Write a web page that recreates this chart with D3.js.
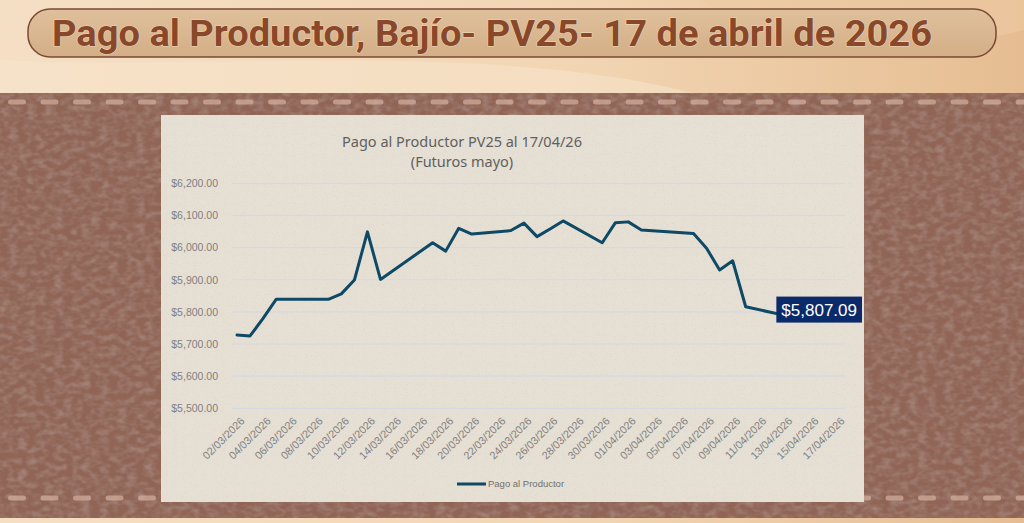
<!DOCTYPE html>
<html><head><meta charset="utf-8">
<script src="https://cdn.jsdelivr.net/npm/d3@7/dist/d3.min.js"></script>
<style>html,body{margin:0;padding:0;overflow:hidden;background:#f3dcc0}</style>
</head><body>
<svg id="c" width="1024" height="523"></svg>
<script>
// ---------- data ----------
const dates = ["02/03/2026","03/03/2026","04/03/2026","05/03/2026","06/03/2026","09/03/2026","10/03/2026","11/03/2026","12/03/2026","13/03/2026","17/03/2026","18/03/2026","19/03/2026","20/03/2026","23/03/2026","24/03/2026","25/03/2026","26/03/2026","27/03/2026","30/03/2026","31/03/2026","01/04/2026","02/04/2026","06/04/2026","07/04/2026","08/04/2026","09/04/2026","10/04/2026","13/04/2026","14/04/2026","15/04/2026","16/04/2026","17/04/2026"];
const pago = [5728,5725,5780,5839,5839,5839,5856,5899,6049,5901,6015,5989,6060,6042,6053,6076,6034,6058,6083,6015,6077,6080,6055,6044,5998,5930,5959,5816,5789,5795,5800,5803,5807.09];
const tickLabels = ["02/03/2026","04/03/2026","06/03/2026","08/03/2026","10/03/2026","12/03/2026","14/03/2026","16/03/2026","18/03/2026","20/03/2026","22/03/2026","24/03/2026","26/03/2026","28/03/2026","30/03/2026","01/04/2026","03/04/2026","05/04/2026","07/04/2026","09/04/2026","11/04/2026","13/04/2026","15/04/2026","17/04/2026"];
const yTicks = [5500,5600,5700,5800,5900,6000,6100,6200];
const headline = "Pago al Productor, Bajío- PV25- 17 de abril de 2026";
const chartTitle = ["Pago al Productor PV25 al 17/04/26","(Futuros mayo)"];
const seriesName = "Pago al Productor";

const parse = d3.timeParse("%d/%m/%Y");
const data = dates.map((d,i)=>({date:parse(d), v:pago[i]}));

const svg = d3.select("#c");
const defs = svg.append("defs");

// backgrounds
const g1 = defs.append("linearGradient").attr("id","bgTop").attr("x1","0").attr("x2","1").attr("y1","0").attr("y2","0");
g1.append("stop").attr("offset","0").attr("stop-color","#f5dfc4");
g1.append("stop").attr("offset","0.55").attr("stop-color","#f2d6b4");
g1.append("stop").attr("offset","1").attr("stop-color","#e6bd92");
const g2 = defs.append("linearGradient").attr("id","pill").attr("x1","0").attr("x2","0").attr("y1","0").attr("y2","1");
g2.append("stop").attr("offset","0").attr("stop-color","#dfc09c");
g2.append("stop").attr("offset","1").attr("stop-color","#d3ae86");

const fl = defs.append("filter").attr("id","leather").attr("x",0).attr("y",0).attr("width","100%").attr("height","100%");
fl.append("feTurbulence").attr("type","fractalNoise").attr("baseFrequency","0.11 0.17").attr("numOctaves",2).attr("seed",4).attr("result","n");
fl.append("feColorMatrix").attr("in","n").attr("type","matrix")
  .attr("values","0 0 0 0 0.36  0 0 0 0 0.22  0 0 0 0 0.18  2.2 0 0 0 -0.85");
const fp = defs.append("filter").attr("id","paper").attr("x",0).attr("y",0).attr("width","100%").attr("height","100%");
fp.append("feTurbulence").attr("type","fractalNoise").attr("baseFrequency","0.9").attr("numOctaves",1).attr("seed",7).attr("result","n");
fp.append("feColorMatrix").attr("in","n").attr("type","matrix")
  .attr("values","0 0 0 0 0.55  0 0 0 0 0.5  0 0 0 0 0.45  2.2 0 0 0 -1.25");

svg.append("rect").attr("width",1024).attr("height",523).attr("fill","url(#bgTop)");
svg.append("path").attr("d","M700,0 C760,40 900,60 1024,30 L1024,0 Z").attr("fill","#ecc9a3").attr("opacity",0.6);
svg.append("path").attr("d","M0,60 C200,70 500,40 700,95 L0,95 Z").attr("fill","#f8e5cd").attr("opacity",0.5);

// leather band
svg.append("rect").attr("x",0).attr("y",93).attr("width",1024).attr("height",425).attr("fill","#906556");
svg.append("rect").attr("x",0).attr("y",93).attr("width",1024).attr("height",425).attr("filter","url(#leather)");
// stitches
[102,498].forEach(sy=>{
  const xs = d3.range(8,1024,32.5);
  svg.append("g").selectAll("rect").data(xs).join("rect")
    .attr("x",d=>d).attr("y",sy-2.5).attr("width",18).attr("height",5).attr("rx",2.5)
    .attr("fill","#d4b0a0").attr("opacity",0.7);
});

// headline pill
svg.append("rect").attr("x",28).attr("y",9).attr("width",968).attr("height",48).attr("rx",22)
  .attr("fill","url(#pill)").attr("stroke","#7b4a33").attr("stroke-width",1.5);
svg.append("text").attr("x",52).attr("y",46).attr("font-family","Roboto, 'Open Sans', sans-serif")
  .attr("font-weight","bold").attr("font-size",36).attr("fill","#8a482b")
  .attr("textLength",880).attr("lengthAdjust","spacingAndGlyphs")
  .style("paint-order","stroke").attr("stroke","#ecd4b6").attr("stroke-width",1.2)
  .text(headline);

// chart panel
svg.append("rect").attr("x",161).attr("y",115).attr("width",703).attr("height",387).attr("fill","#e6dfd4");
svg.append("rect").attr("x",161).attr("y",115).attr("width",703).attr("height",387).attr("filter","url(#paper)").attr("opacity",0.5);

// scales
const x = d3.scaleTime().domain([parse("02/03/2026"), parse("17/04/2026")]).range([237,837]);
const y = d3.scaleLinear().domain([5500,6200]).range([408.3,183.3]);
const plotL = 232, plotR = 845;

// gridlines
svg.append("g").selectAll("line").data(yTicks).join("line")
  .attr("x1",plotL).attr("x2",plotR).attr("y1",d=>y(d)).attr("y2",d=>y(d))
  .attr("stroke","#d5dae2").attr("stroke-width",1.2);

// y axis labels
const fmt = d3.format("$,.2f");
const yAxis = d3.axisLeft(y).tickValues(yTicks).tickSize(0).tickPadding(0).tickFormat(d=>fmt(d));
const ya = svg.append("g").attr("transform","translate(218,0)").call(yAxis);
ya.select(".domain").remove();
ya.selectAll("text").attr("font-family","'Liberation Sans', Arial, sans-serif").attr("font-size",10.5).attr("fill","#7f7f7f");

// x axis labels
const xa = d3.axisBottom(x).tickValues(tickLabels.map(parse)).tickSize(0).tickFormat(d3.timeFormat("%d/%m/%Y"));
const xg = svg.append("g").attr("transform","translate(0,417)").call(xa);
xg.select(".domain").remove();
xg.selectAll("text").attr("font-family","'Liberation Sans', Arial, sans-serif").attr("font-size",10.8).attr("fill","#7f7f7f")
  .attr("text-anchor","end").attr("dy","0.35em").attr("transform","translate(3,0) rotate(-45)");

// title
svg.append("text").attr("x",462).attr("y",147).attr("text-anchor","middle")
  .attr("font-family","'Noto Sans', 'Open Sans', sans-serif").attr("font-size",14.5).attr("fill","#5f5f5f")
  .selectAll("tspan").data(chartTitle).join("tspan").attr("x",462).attr("dy",(d,i)=>i?20:0).text(d=>d);

// line
const line = d3.line().x(d=>x(d.date)).y(d=>y(d.v));
svg.append("path").datum(data).attr("d",line).attr("fill","none")
  .attr("stroke","#0e4965").attr("stroke-width",3).attr("stroke-linejoin","round").attr("stroke-linecap","round");

// data label for last point
const last = data[data.length-1];
const lx = x(last.date), ly = y(last.v);
const lab = svg.append("g");
const lt = lab.append("text").attr("font-family","'Liberation Sans', Arial, sans-serif").attr("font-size",17)
  .attr("fill","#ffffff").attr("text-anchor","middle").attr("dy","0.36em").text(fmt(last.v));
const bb = lt.node().getBBox();
const bw = bb.width + 10, bh = 26;
let bx = Math.min(lx - bw/2, 862 - bw);
lab.insert("rect","text").attr("x",bx).attr("y",ly - bh/2).attr("width",bw).attr("height",bh).attr("fill","#0b2a6a");
lt.attr("x",bx + bw/2).attr("y",ly);

// legend
svg.append("line").attr("x1",457).attr("x2",486).attr("y1",484).attr("y2",484).attr("stroke","#0e4965").attr("stroke-width",3);
svg.append("text").attr("x",488).attr("y",484).attr("dy","0.35em").attr("font-family","'Liberation Sans', Arial, sans-serif")
  .attr("font-size",9.5).attr("fill","#6f6f6f").text(seriesName);
</script>
</body></html>
